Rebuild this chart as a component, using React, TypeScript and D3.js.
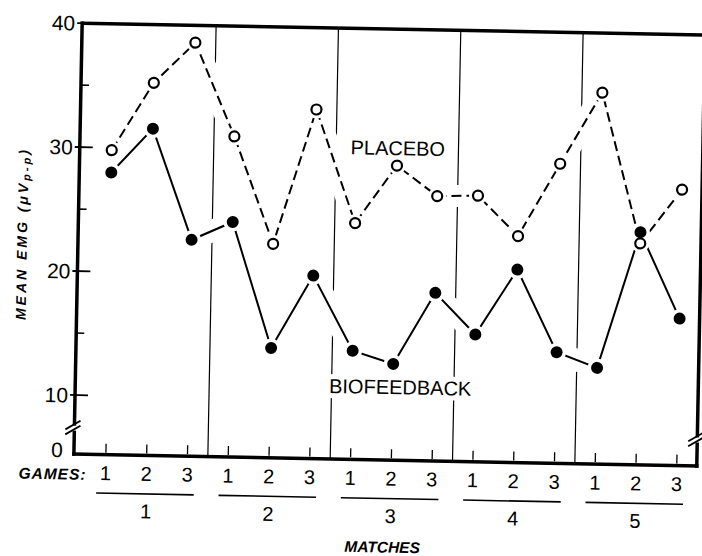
import React from "react";
import * as d3 from "d3";

// ---- data ----
const matches = ["1", "2", "3", "4", "5"];
const games = ["1", "2", "3"];
const placebo = [29.8, 35.3, 38.6, 31.1, 22.5, 33.4, 24.3, 29.0, 26.6, 26.7, 23.5, 29.4, 35.2, 23.1, 27.5];
const biofeedback = [28.0, 31.6, 22.7, 24.2, 14.1, 20.0, 14.0, 13.0, 18.8, 15.5, 20.8, 14.2, 13.0, 24.0, 17.1];
const majorTicks = [10, 20, 30, 40];
const minorTicks = [15, 25, 35];
const yAxisTitle = "MEAN EMG (μV";
const yAxisSub = "p-p";
const xGamesTitle = "GAMES:";
const xMatchesTitle = "MATCHES";
const placeboLabel = "PLACEBO";
const bioLabel = "BIOFEEDBACK";

const W = 702;
const H = 556;
const LEFT = 78;
const RIGHT = 701;
const BOTTOM = 460;
const FONT = "'Liberation Sans', Arial, Helvetica, sans-serif";

export default function App() {
  const y = d3.scaleLinear().domain([10, 40]).range([401, 29]);
  const TOP = y(40);
  const idx = d3.range(matches.length * games.length);
  const x = d3.scalePoint<number>().domain(idx).range([110, 681]).padding(0);
  const xi = (i: number) => x(i) as number;

  const line = d3
    .line<number>()
    .x((_, i) => xi(i))
    .y((d) => y(d));

  const separators = d3.range(1, matches.length).map((m) => (xi(m * 3 - 1) + xi(m * 3)) / 2);
  const yBreak = (y(10) + BOTTOM) / 2 + 3;

  const breakMark = (cx: number, key: string) => (
    <g key={key}>
      <rect x={cx - 5} y={yBreak - 2} width={10} height={5} fill="#fff" />
      <line x1={cx - 9} y1={yBreak + 2} x2={cx + 6} y2={yBreak - 7} stroke="#000" strokeWidth={1.8} />
      <line x1={cx - 9} y1={yBreak + 7} x2={cx + 6} y2={yBreak - 2} stroke="#000" strokeWidth={1.8} />
    </g>
  );

  return (
    <svg
      width={W}
      height={H}
      style={{ position: "absolute", left: 0, top: 0, background: "#fff" }}
      fontFamily={FONT}
    >
      <rect width={W} height={H} fill="#fff" />
      <g transform="rotate(1.1 386 243)">
        {/* match separators */}
        {separators.map((sx, i) => (
          <line key={"sep" + i} x1={sx} x2={sx} y1={TOP} y2={BOTTOM} stroke="#000" strokeWidth={1.2} />
        ))}

        {/* white halos under data lines (break the separators) */}
        <path d={line(placebo) || ""} fill="none" stroke="#fff" strokeWidth={22} strokeLinejoin="round" />
        <path d={line(biofeedback) || ""} fill="none" stroke="#fff" strokeWidth={22} strokeLinejoin="round" />

        {/* data lines */}
        <path d={line(placebo) || ""} fill="none" stroke="#000" strokeWidth={2} strokeDasharray="10 5" />
        <path d={line(biofeedback) || ""} fill="none" stroke="#000" strokeWidth={2} />

        {/* marker halos */}
        {placebo.map((v, i) => (
          <circle key={"ph" + i} cx={xi(i)} cy={y(v)} r={9} fill="#fff" />
        ))}
        {biofeedback.map((v, i) => (
          <circle key={"bh" + i} cx={xi(i)} cy={y(v)} r={9.5} fill="#fff" />
        ))}
        {/* markers */}
        {placebo.map((v, i) => (
          <circle key={"p" + i} cx={xi(i)} cy={y(v)} r={5} fill="#fff" stroke="#000" strokeWidth={2.2} />
        ))}
        {biofeedback.map((v, i) => (
          <circle key={"b" + i} cx={xi(i)} cy={y(v)} r={6} fill="#000" />
        ))}

        {/* series labels */}
        <text
          x={396}
          y={148}
          fontSize={20}
          textAnchor="middle"
          dominantBaseline="central"
          stroke="#fff"
          strokeWidth={8}
          paintOrder="stroke"
          fill="#000"
        >
          {placeboLabel}
        </text>
        <text
          x={403}
          y={387}
          fontSize={20}
          textAnchor="middle"
          dominantBaseline="central"
          stroke="#fff"
          strokeWidth={10}
          paintOrder="stroke"
          fill="#000"
        >
          {bioLabel}
        </text>

        {/* frame */}
        <line x1={LEFT} x2={RIGHT + 1.5} y1={TOP} y2={TOP} stroke="#000" strokeWidth={3.5} />
        <line x1={LEFT} x2={LEFT} y1={TOP - 1.75} y2={BOTTOM + 1.75} stroke="#000" strokeWidth={3.5} />
        <line x1={LEFT - 1.75} x2={RIGHT + 1.75} y1={BOTTOM} y2={BOTTOM} stroke="#000" strokeWidth={3.5} />
        <line x1={RIGHT} x2={RIGHT} y1={TOP} y2={BOTTOM + 1.75} stroke="#000" strokeWidth={3.5} />
        {breakMark(LEFT, "bl")}
        {breakMark(RIGHT, "br")}

        {/* y ticks */}
        {majorTicks.map((t) => (
          <g key={"mt" + t}>
            <line x1={LEFT - 5} x2={LEFT + 13} y1={y(t)} y2={y(t)} stroke="#000" strokeWidth={1.8} />
            <text x={71} y={y(t)} fontSize={21} textAnchor="end" dominantBaseline="central">
              {t}
            </text>
          </g>
        ))}
        {minorTicks.map((t) => (
          <line key={"nt" + t} x1={LEFT} x2={LEFT + 8} y1={y(t)} y2={y(t)} stroke="#000" strokeWidth={1.6} />
        ))}
        <text x={61} y={BOTTOM - 4} fontSize={21} textAnchor="middle" dominantBaseline="central">
          0
        </text>

        {/* y title */}
        <text
          transform="translate(22 242) rotate(-90)"
          fontSize={14}
          fontWeight="bold"
          fontStyle="italic"
          textAnchor="middle"
          dominantBaseline="central"
          textLength={170}
          lengthAdjust="spacing"
        >
          <tspan>{yAxisTitle}</tspan>
          <tspan fontSize={11} dy={3}>
            {yAxisSub}
          </tspan>
          <tspan dy={-3}>)</tspan>
        </text>

        {/* game ticks and labels */}
        {idx.map((i) => (
          <g key={"g" + i}>
            <line x1={xi(i)} x2={xi(i)} y1={BOTTOM - 2} y2={BOTTOM - 11} stroke="#000" strokeWidth={1.3} />
            <text x={xi(i)} y={478.5} fontSize={20} textAnchor="middle" dominantBaseline="central">
              {games[i % games.length]}
            </text>
          </g>
        ))}
        <text
          x={57}
          y={480}
          fontSize={15.5}
          fontWeight="bold"
          fontStyle="italic"
          textAnchor="middle"
          dominantBaseline="central"
          letterSpacing={1}
        >
          {xGamesTitle}
        </text>

        {/* match underlines and labels */}
        {matches.map((m, k) => {
          const a = xi(k * 3);
          const b = xi(k * 3 + 2);
          return (
            <g key={"m" + m}>
              <line x1={a - 9} x2={b + 7} y1={498.5} y2={498.5} stroke="#000" strokeWidth={1.6} />
              <text x={xi(k * 3 + 1)} y={516} fontSize={20} textAnchor="middle" dominantBaseline="central">
                {m}
              </text>
            </g>
          );
        })}
        <text
          x={388}
          y={547}
          fontSize={15.5}
          fontWeight="bold"
          fontStyle="italic"
          textAnchor="middle"
          dominantBaseline="central"
        >
          {xMatchesTitle}
        </text>
      </g>
    </svg>
  );
}
